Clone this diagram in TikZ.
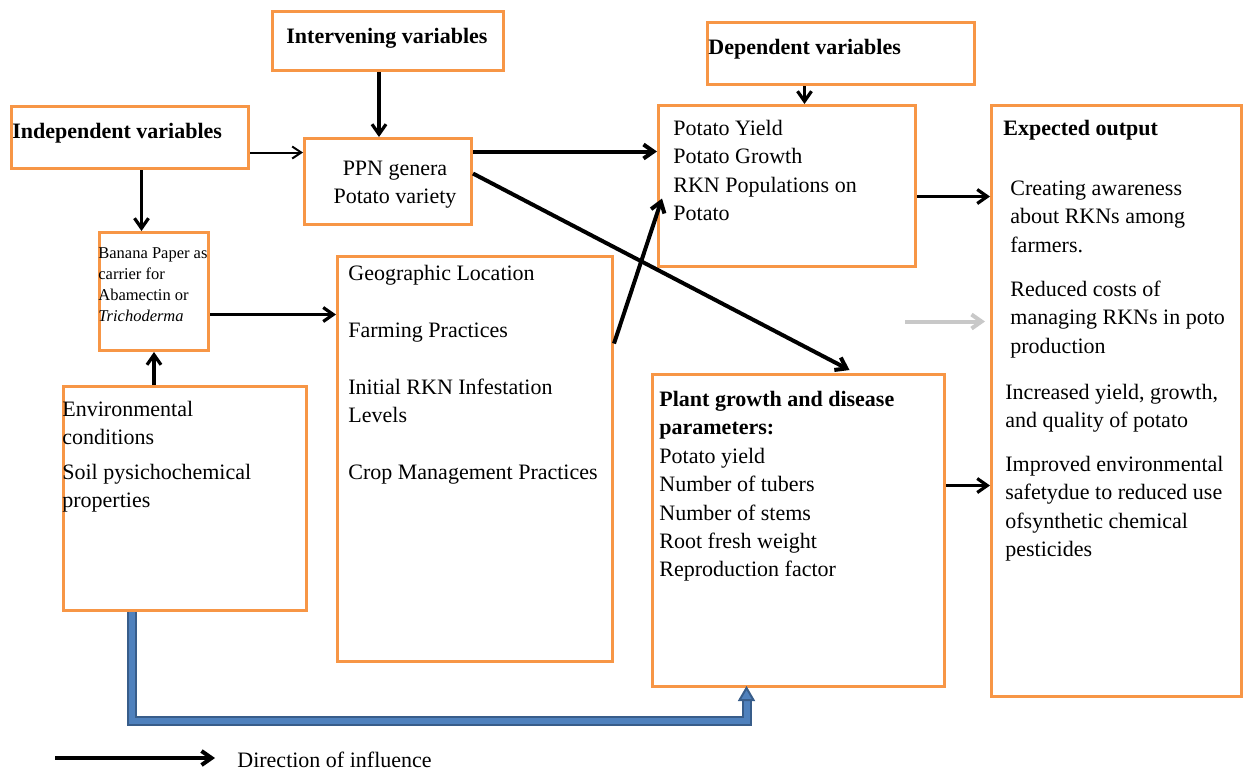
\documentclass[tikz,border=0pt]{standalone}
\usepackage{fontspec}
\setmainfont{Liberation Serif}
\usetikzlibrary{arrows.meta,calc}
\definecolor{boxorange}{HTML}{F79646}
\definecolor{bluefill}{HTML}{4F81BD}
\definecolor{blueedge}{HTML}{385D8A}
\definecolor{lightarrow}{HTML}{C8C8C8}
\begin{document}
\begin{tikzpicture}[x=0.5pt,y=-0.5pt,
  box/.style={draw=boxorange, line width=1.5pt, inner sep=0pt, anchor=north west},
  para/.style={anchor=north west, inner sep=0pt, yshift=9.94pt, align=left, font=\fontsize{11}{14.2}\selectfont},
  bpara/.style={para, font=\fontsize{11}{14.2}\selectfont\bfseries},
  smallpara/.style={anchor=north west, inner sep=0pt, yshift=7.35pt, align=left, font=\fontsize{8.25}{10.5}\selectfont},
  arr/.style={-{Straight Barb[length=5pt,width=7pt]}, line width=1.6pt},
  thinarr/.style={-{Straight Barb[length=4.5pt,width=6pt]}, line width=1pt},
  blueline/.style={draw=blueedge, double=bluefill, line width=1pt, double distance=3pt}
]
\useasboundingbox (0,0) rectangle (1245,773);

% boxes
\node[box, minimum width=115.5pt, minimum height=29.5pt] (interv) at (271,10) {};
\node[box, minimum width=118.5pt, minimum height=31pt] (indep) at (10,105) {};
\node[box, minimum width=83.5pt, minimum height=43pt] (ppn) at (303,137) {};
\node[box, minimum width=133.5pt, minimum height=31pt] (dep) at (706,21) {};
\node[box, minimum width=128.5pt, minimum height=80.5pt] (yield) at (657,104) {};
\node[box, minimum width=125pt, minimum height=295.5pt] (expect) at (990,104) {};
\node[box, minimum width=54.5pt, minimum height=59pt] (banana) at (98,231) {};
\node[box, minimum width=137.5pt, minimum height=202.5pt] (geo) at (336,255) {};
\node[box, minimum width=121.5pt, minimum height=112pt] (env) at (62,385) {};
\node[box, minimum width=146pt, minimum height=156pt] (plant) at (651,373) {};

% texts
\node[bpara] (tinterv) at (286,43) {\strut Intervening variables};
\node[bpara] (tindep) at (12,138) {\strut Independent variables};
\node[para, anchor=north, align=center] (tppn) at (395,175) {\strut PPN genera\\Potato variety};
\node[bpara] (tdep) at (708,54) {\strut Dependent variables};
\node[para] (tyield) at (673,135) {\strut Potato Yield\\Potato Growth\\RKN Populations on\\Potato};
\node[bpara] (texp) at (1003,135) {\strut Expected output};
\node[para] (tcreate) at (1010,195) {\strut Creating awareness\\about RKNs among\\farmers.};
\node[para] (treduce) at (1010,296) {\strut Reduced costs of\\managing RKNs in poto\\production};
\node[para] (tincr) at (1005,399) {\strut Increased yield, growth,\\and quality of potato};
\node[para] (timpr) at (1005,471) {\strut Improved environmental\\safetydue to reduced use\\ofsynthetic chemical\\pesticides};
\node[smallpara] (tbanana) at (98,258) {\strut Banana Paper as\\carrier for\\Abamectin or\\\textit{Trichoderma}};
\node[para] (tgeo) at (348,280) {\strut Geographic Location\\[14.2pt]Farming Practices\\[14.2pt]Initial RKN Infestation\\Levels\\[14.2pt]Crop Management Practices};
\node[para] (tenv1) at (62,416) {\strut Environmental\\conditions};
\node[para] (tenv2) at (62,479) {\strut Soil pysichochemical\\properties};
\node[para] (tplant) at (659,406) {\strut\textbf{Plant growth and disease}\\\textbf{parameters:}\\Potato yield\\Number of tubers\\Number of stems\\Root fresh weight\\Reproduction factor};
\node[para] (tlegend) at (237,767) {\strut Direction of influence};

% connectors
\draw[arr] ([xshift=-4.5pt]interv.south) -- ([xshift=-4.5pt]ppn.north);
\draw[thinarr] ([yshift=-7.5pt]indep.east) -- ([yshift=-7.5pt]indep.east -| ppn.west);
\draw[arr] ([xshift=5.75pt]indep.south) -- ([xshift=5.75pt]indep.south |- banana.north);
\draw[arr] (banana.south |- env.north) -- (banana.south);
\draw[arr] ([yshift=-11.5pt]banana.east) -- ([yshift=-11.5pt]banana.east -| geo.west);
\draw[arr] ([xshift=-18.25pt]dep.south) -- ([xshift=-18.25pt]dep.south |- yield.north);
\draw[arr, line width=2pt] ([yshift=15pt]ppn.east) -- ([yshift=15pt]ppn.east -| yield.west);
\draw[arr, line width=2pt] ([yshift=4pt]ppn.east) -- ([xshift=25.5pt,yshift=1.5pt]plant.north);
\draw[arr, line width=2pt] ([yshift=57.75pt]geo.east) -- ([xshift=2.5pt,yshift=-6.25pt]yield.west);
\draw[arr] ([yshift=-5.25pt]yield.east) -- ([yshift=-5.25pt]yield.east -| expect.west);
\draw[-{Straight Barb[length=5pt,width=7pt]}, line width=2pt, draw=lightarrow] ([shift={(-42.5pt,39.75pt)}]expect.west) -- ([shift={(-2.5pt,39.75pt)}]expect.west);
\draw[arr] ([yshift=22.5pt]plant.east) -- ([yshift=22.5pt]plant.east -| expect.west);

% blue connector
\coordinate (bluetip) at ([xshift=-26pt]plant.south);
\draw[blueline] ([xshift=-26.75pt]env.south) -- ++(0,109) -| ([yshift=-6pt]bluetip);
\filldraw[fill=bluefill, draw=blueedge, line width=1pt] ($(bluetip)+(-7,12)$) -- (bluetip) -- ($(bluetip)+(7,12)$) -- cycle;

% legend
\coordinate (legA) at (55,758);
\coordinate (legB) at (215,758);
\draw[arr, line width=2pt] (legA) -- (legB);
\end{tikzpicture}
\end{document}
